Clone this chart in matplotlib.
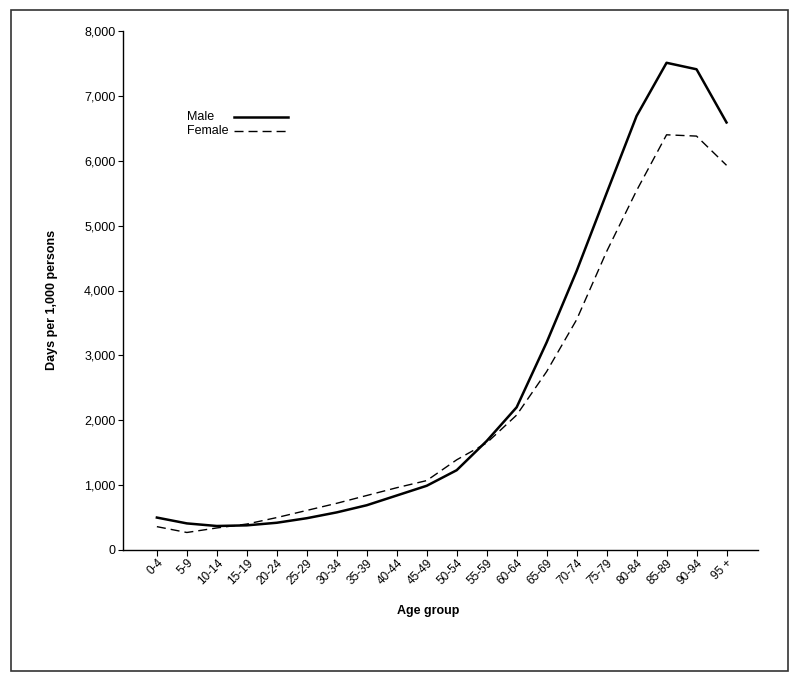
import matplotlib
matplotlib.use("Agg")
import matplotlib.pyplot as plt
from matplotlib.patches import Rectangle
from matplotlib.lines import Line2D
from matplotlib.ticker import FuncFormatter

plt.rcParams['font.family'] = ['Liberation Sans', 'DejaVu Sans']

age_groups = ["0-4", "5-9", "10-14", "15-19", "20-24", "25-29", "30-34", "35-39",
              "40-44", "45-49", "50-54", "55-59", "60-64", "65-69", "70-74", "75-79",
              "80-84", "85-89", "90-94", "95 +"]
male = [500, 410, 370, 380, 420, 490, 580, 690, 840, 990, 1230, 1680, 2200, 3200,
        4300, 5500, 6690, 7510, 7410, 6590]
female = [360, 270, 340, 400, 500, 610, 720, 840, 960, 1070, 1390, 1650, 2080, 2750,
          3550, 4600, 5540, 6400, 6380, 5930]
y_ticks = [0, 1000, 2000, 3000, 4000, 5000, 6000, 7000, 8000]

W, H = 798, 682
fig = plt.figure(figsize=(W / 100, H / 100), dpi=100)
ax_l, ax_b, ax_w, ax_h = 123 / W, 1 - 550 / H, (758 - 123) / W, (550 - 31) / H
ax = fig.add_axes([ax_l, ax_b, ax_w, ax_h])

x = list(range(len(age_groups)))
male_style = dict(color='black', lw=1.8)
female_style = dict(color='black', lw=1.0, dashes=(6.5, 3.6))
ax.plot(x, male, label='Male', **male_style)
ax.plot(x, female, label='Female', **female_style)

ax.set_xlim(-1.13, 20.05)
ax.set_ylim(0, 8000)
ax.set_yticks(y_ticks)
ax.yaxis.set_major_formatter(FuncFormatter(lambda v, p: f"{int(v):,}"))
ax.set_xticks(x)
ax.set_xticklabels(age_groups, rotation=45, ha='right', va='top',
                   rotation_mode='anchor', fontsize=8.5)
ax.tick_params(axis='y', direction='out', length=3.5, width=0.8, pad=2, labelsize=9)
ax.tick_params(axis='x', direction='out', length=4.0, width=0.8, pad=1)

for s in ['top', 'right']:
    ax.spines[s].set_visible(False)
for s in ['left', 'bottom']:
    ax.spines[s].set_linewidth(1.0)


def fx(px):
    return px / W


def fy(py):
    return 1 - py / H


# legend: label text on the left, line sample on the right
for label, style, py in [("Male", male_style, 117), ("Female", female_style, 131)]:
    fig.text(fx(187), fy(py), label, ha='left', va='center', fontsize=9)
    fig.lines.append(Line2D([fx(234), fx(288)], [fy(py), fy(py)],
                            transform=fig.transFigure, **style))

fig.text(fx(52), fy(300), "Days per 1,000 persons", rotation=90, ha='center',
         va='center', fontsize=9, fontweight='bold')
fig.text(fx(428), fy(611), "Age group", ha='center', va='center',
         fontsize=9, fontweight='bold')

fig.patches.append(Rectangle((fx(11), fy(671)), (788 - 11) / W, (671 - 10) / H,
                             transform=fig.transFigure, fill=False,
                             edgecolor='#333333', lw=1.2))

fig.savefig("out.png", dpi=100)
